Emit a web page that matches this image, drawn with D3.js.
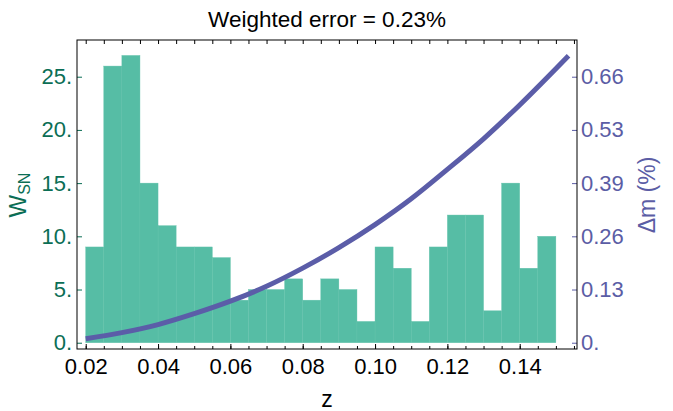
<!DOCTYPE html>
<html><head><meta charset="utf-8">
<script src="https://cdn.jsdelivr.net/npm/d3@7"></script>
<style>body{margin:0;background:#fff}svg{display:block}text{font-family:"Liberation Sans",Arial,sans-serif}</style>
</head><body><svg id="c" width="673" height="411"></svg>
<script>
// Histogram: bin edges start, width, counts
const binStarts = [0.020,0.025,0.030,0.035,0.040,0.045,0.050,0.055,0.060,0.065,0.070,0.075,0.080,0.085,0.090,0.095,0.100,0.105,0.110,0.115,0.120,0.125,0.130,0.135,0.140,0.145];
const binWidth = 0.005;
const counts = [9,26,27,15,11,9,9,8,4,5,5,6,4,6,5,2,9,7,2,9,12,12,3,15,7,10];
// Δm curve (percent)
const curveZ  = [0.020,0.030,0.040,0.050,0.060,0.070,0.080,0.090,0.100,0.110,0.120,0.130,0.140,0.1535];
const curveDm = [0.010,0.025,0.045,0.072,0.103,0.140,0.185,0.236,0.293,0.357,0.430,0.506,0.590,0.712];
// ticks
const xTicks = [0.02,0.04,0.06,0.08,0.10,0.12,0.14];
const xTickLabels = ["0.02","0.04","0.06","0.08","0.10","0.12","0.14"];
const xMinor = d3.range(0.02,0.1551,0.005);
const yLTicks = [0,5,10,15,20,25];
const yLTickLabels = ["0.","5.","10.","15.","20.","25."];
const yRTicks = [0,0.132,0.264,0.396,0.528,0.66];
const yRTickLabels = ["0.","0.13","0.26","0.39","0.53","0.66"];
const title = "Weighted error = 0.23%";

const svg = d3.select("#c");
const L=77,R=577,T=40,B=349;
const x = d3.scaleLinear().domain([0.01759,0.15584]).range([L,R]);
const yL = d3.scaleLinear().domain([-0.59,28.45]).range([B,T]);
const yR = d3.scaleLinear().domain([-0.59*0.0264,28.45*0.0264]).range([B,T]);
const green="#56BDA5", teal="#0B6E55", purple="#5B5DA8", purpleT="#5B5DA5";

svg.append("g").selectAll("rect").data(counts).join("rect")
  .attr("x",(d,i)=>x(binStarts[i]))
  .attr("width",(d,i)=>x(binStarts[i]+binWidth)-x(binStarts[i]))
  .attr("y",d=>yL(d)).attr("height",d=>yL(0)-yL(d))
  .attr("fill",green).attr("stroke","#62c2ab").attr("stroke-width",0.4);

svg.append("path").datum(curveZ.map((z,i)=>[z,curveDm[i]]))
  .attr("d",d3.line().x(d=>x(d[0])).y(d=>yR(d[1])).curve(d3.curveMonotoneX))
  .attr("fill","none").attr("stroke",purple).attr("stroke-width",5);

// axes
const gB = svg.append("g").attr("transform",`translate(0,${B})`)
  .call(d3.axisBottom(x).tickValues(xTicks).tickFormat((d,i)=>xTickLabels[i]).tickSizeInner(-5).tickSizeOuter(0).tickPadding(9));
gB.selectAll(".tick text").attr("font-size",22).attr("fill","#000");
gB.select(".domain").remove();
svg.append("g").attr("transform",`translate(0,${B})`)
  .call(d3.axisBottom(x).tickValues(xMinor).tickFormat("").tickSizeInner(-3).tickSizeOuter(0))
  .select(".domain").remove();
svg.append("g").attr("transform",`translate(0,${T})`)
  .call(d3.axisTop(x).tickValues(xMinor).tickFormat("").tickSizeInner(-4).tickSizeOuter(0))
  .select(".domain").remove();

const gL = svg.append("g").attr("transform",`translate(${L},0)`)
  .call(d3.axisLeft(yL).tickValues(yLTicks).tickFormat((d,i)=>yLTickLabels[i]).tickSizeInner(-5).tickSizeOuter(0).tickPadding(5));
gL.select(".domain").remove();
gL.selectAll(".tick line").attr("stroke",teal);
gL.selectAll(".tick text").attr("font-size",22).attr("fill",teal);

const gR = svg.append("g").attr("transform",`translate(${R},0)`)
  .call(d3.axisRight(yR).tickValues(yRTicks).tickFormat((d,i)=>yRTickLabels[i]).tickSizeInner(-5).tickSizeOuter(0).tickPadding(4));
gR.select(".domain").remove();
gR.selectAll(".tick line").attr("stroke",purpleT);
gR.selectAll(".tick text").attr("font-size",22).attr("fill",purpleT);

svg.append("rect").attr("x",L).attr("y",T).attr("width",R-L).attr("height",B-T)
  .attr("fill","none").attr("stroke","#000").attr("stroke-width",1);

svg.append("text").attr("x",327).attr("y",27).attr("text-anchor","middle").attr("font-size",22.5).text(title);
svg.append("text").attr("x",327).attr("y",407).attr("text-anchor","middle").attr("font-size",23).text("z");

const yl = svg.append("text").attr("transform","translate(26,195) rotate(-90)").attr("text-anchor","middle").attr("fill",teal).attr("font-size",24);
yl.append("tspan").text("W");
yl.append("tspan").attr("font-size",16).attr("dy",4).text("SN");

svg.append("text").attr("transform","translate(655,195) rotate(-90)").attr("text-anchor","middle").attr("fill",purpleT).attr("font-size",23).text("Δm (%)");
</script></body></html>
